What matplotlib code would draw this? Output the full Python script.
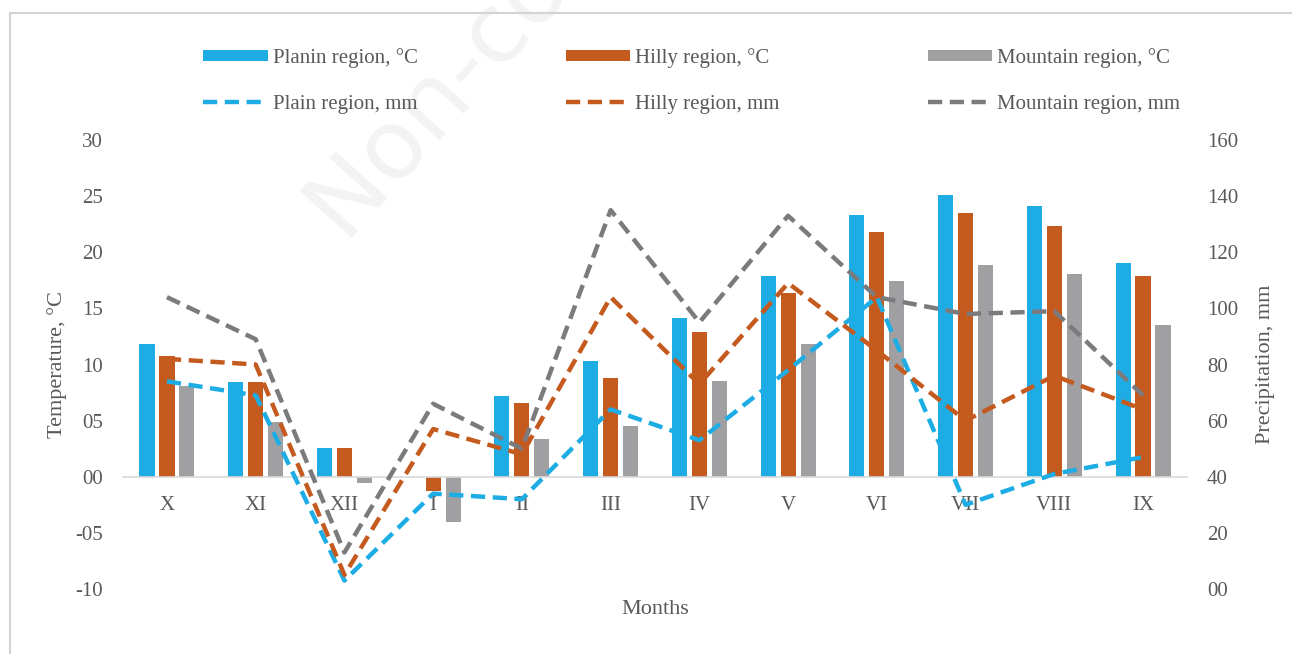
import numpy as np
import matplotlib
matplotlib.use("Agg")
import matplotlib.pyplot as plt
from matplotlib.lines import Line2D

plt.rcParams["font.family"] = ["Liberation Serif", "DejaVu Serif"]

months = ["X", "XI", "XII", "I", "II", "III", "IV", "V", "VI", "VII", "VIII", "IX"]

# temperature, °C (bars)
temp_plain    = [11.8, 8.4, 2.6, 0.0, 7.2, 10.3, 14.1, 17.9, 23.3, 25.1, 24.1, 19.0]
temp_hilly    = [10.8, 8.4, 2.6, -1.3, 6.6, 8.8, 12.9, 16.4, 21.8, 23.5, 22.3, 17.9]
temp_mountain = [8.1, 4.9, -0.6, -4.0, 3.4, 4.5, 8.5, 11.8, 17.4, 18.9, 18.1, 13.5]

# precipitation, mm (dashed lines)
prec_plain    = [74, 69, 3, 34, 32, 64, 53, 78, 104, 30, 41, 47]
prec_hilly    = [82, 80, 5, 57, 48, 104, 73, 109, 85, 60, 76, 64]
prec_mountain = [104, 89, 13, 66, 50, 135, 95, 133, 104, 98, 99, 69]

temp_ticks = [-10, -5, 0, 5, 10, 15, 20, 25, 30]
temp_ticklabels = ["-10", "-05", "00", "05", "10", "15", "20", "25", "30"]
prec_ticks = [0, 20, 40, 60, 80, 100, 120, 140, 160]
prec_ticklabels = ["00", "20", "40", "60", "80", "100", "120", "140", "160"]

c_blue = "#1DADE4"
c_orange = "#C55A1F"
c_gray_bar = "#A0A0A3"
c_gray_line = "#7B7B7D"
txt = "#595959"

W, H = 1292, 654
fig = plt.figure(figsize=(W / 100, H / 100), dpi=100)

# faint watermark
fig.text(292 / W, 1 - 238 / H, "Non-commercial use only", fontsize=70, color="#f3f3f3",
         rotation=48, ha="left", va="baseline", family="DejaVu Sans", zorder=0)

# frame lines of the original figure box
fig.add_artist(Line2D([10 / W, 10 / W], [0, 1 - 13 / H], color="#d6d2d0", lw=1.5))
fig.add_artist(Line2D([10 / W, 1], [1 - 13 / H, 1 - 13 / H], color="#d6d2d0", lw=1.5))

ax = fig.add_axes([122.6 / W, 1 - 589 / H, (1187.4 - 122.6) / W, (589 - 140) / H])
ax.patch.set_alpha(0)
x = np.arange(len(months))
off, bw = 0.225, 0.17
b1 = ax.bar(x - off, temp_plain, bw, color=c_blue, label="Planin region, °C")
b2 = ax.bar(x, temp_hilly, bw, color=c_orange, label="Hilly region, °C")
b3 = ax.bar(x + off, temp_mountain, bw, color=c_gray_bar, label="Mountain region, °C")

ax.set_xlim(-0.5, len(months) - 0.5)
ax.set_ylim(-10, 30)
ax.set_yticks(temp_ticks)
ax.set_yticklabels(temp_ticklabels)
ax.set_xticks(x)
ax.set_xticklabels(months)
for s in ["top", "right", "left"]:
    ax.spines[s].set_visible(False)
ax.spines["bottom"].set_position(("data", 0))
ax.spines["bottom"].set_color("#d9d9d9")
ax.spines["bottom"].set_linewidth(1.2)
ax.tick_params(axis="x", length=0, pad=13.5, labelsize=15, labelcolor=txt)
ax.tick_params(axis="y", length=0, pad=14, labelsize=15, labelcolor=txt)
ax.set_ylabel("Temperature, °C", fontsize=16, color=txt, labelpad=6)

ax2 = ax.twinx()
lkw = dict(lw=3.2, dashes=(3.2, 1.7))
l1, = ax2.plot(x, prec_plain, color=c_blue, label="Plain region, mm", **lkw)
l2, = ax2.plot(x, prec_hilly, color=c_orange, label="Hilly region, mm", **lkw)
l3, = ax2.plot(x, prec_mountain, color=c_gray_line, label="Mountain region, mm", **lkw)
ax2.set_ylim(0, 160)
ax2.set_yticks(prec_ticks)
ax2.set_yticklabels(prec_ticklabels)
for s in ["top", "right", "left", "bottom"]:
    ax2.spines[s].set_visible(False)
ax2.tick_params(axis="y", length=0, pad=14, labelsize=15, labelcolor=txt)
ax2.set_ylabel("Precipitation, mm", fontsize=16, color=txt, labelpad=13)

fig.text(655 / W, 1 - 610 / H, "Months", fontsize=16, color=txt, ha="center", va="center")

handles = [b1, l1, b2, l2, b3, l3]
labels = [h.get_label() for h in handles]
leg = fig.legend(handles, labels, ncol=3, loc="upper left",
                 bbox_to_anchor=(203 / W, 1 - 48 / H), frameon=False, fontsize=15,
                 handlelength=3.1, handleheight=0.5, handletextpad=0.25,
                 labelspacing=1.3, columnspacing=7.1, borderpad=0, borderaxespad=0)
for t in leg.get_texts():
    t.set_color(txt)

fig.savefig("out.png", dpi=100)
